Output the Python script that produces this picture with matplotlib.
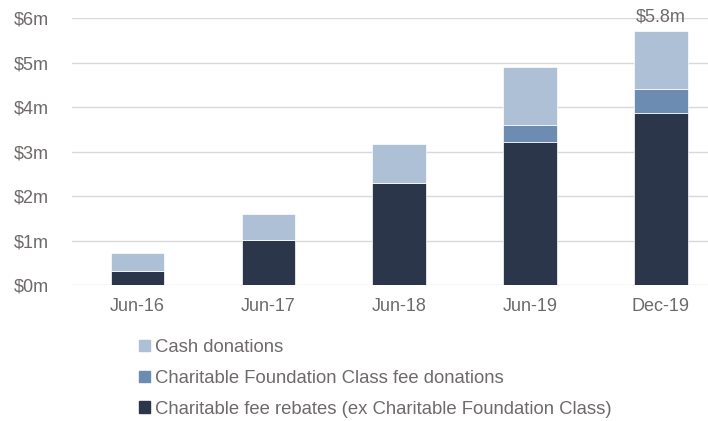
import numpy as np
import matplotlib.pyplot as plt
from matplotlib.patches import Patch

plt.rcParams['font.family'] = ['Liberation Sans', 'DejaVu Sans']

categories = ["Jun-16", "Jun-17", "Jun-18", "Jun-19", "Dec-19"]
fee_rebates = np.array([0.31, 1.02, 2.29, 3.22, 3.87])
foundation_fees = np.array([0.0, 0.0, 0.0, 0.37, 0.54])
cash = np.array([0.42, 0.57, 0.89, 1.31, 1.31])
tick_vals = [0, 1, 2, 3, 4, 5, 6]
tick_labels = ["$%dm" % v for v in tick_vals]
top_label = "$5.8m"

c_dark = "#2C364A"
c_mid = "#6C8CB2"
c_light = "#ADC0D6"
txt = "#6F6A6A"

fig = plt.figure(figsize=(7.08, 4.21), dpi=100)
ax = fig.add_axes([0.102, 0.323, 0.898, 0.634])

x = np.arange(len(categories))
w = 0.41
ax.bar(x, fee_rebates, w, color=c_dark, edgecolor="white", linewidth=0.5, zorder=3)
ax.bar(x, foundation_fees, w, bottom=fee_rebates, color=c_mid, edgecolor="white", linewidth=0.5, zorder=3)
ax.bar(x, cash, w, bottom=fee_rebates + foundation_fees, color=c_light, edgecolor="white", linewidth=0.5, zorder=3)

total = fee_rebates + foundation_fees + cash
ax.text(x[-1], total[-1] + 0.12, top_label, ha="center", va="bottom", color=txt, fontsize=13)

ax.set_ylim(0, 6)
ax.set_xlim(-0.5, 4.36)
ax.set_yticks(tick_vals)
ax.set_yticklabels(tick_labels)
ax.set_xticks(x)
ax.set_xticklabels(categories)
ax.tick_params(length=0, colors=txt, labelsize=13)
ax.tick_params(axis="x", pad=9)
ax.tick_params(axis="y", pad=17)
ax.grid(axis="y", color="#D9D9D9", linewidth=1, zorder=0)
for s in ax.spines.values():
    s.set_visible(False)

handles = [Patch(color=c_light), Patch(color=c_mid), Patch(color=c_dark)]
labels = ["Cash donations", "Charitable Foundation Class fee donations",
          "Charitable fee rebates (ex Charitable Foundation Class)"]
leg = fig.legend(handles, labels, loc="upper left", bbox_to_anchor=(0.186, 0.212),
                 frameon=False, fontsize=13.3, handlelength=0.6, handleheight=0.6,
                 handletextpad=0.25, labelspacing=0.75, borderaxespad=0)
for t in leg.get_texts():
    t.set_color(txt)

fig.savefig("out.png", dpi=100)
